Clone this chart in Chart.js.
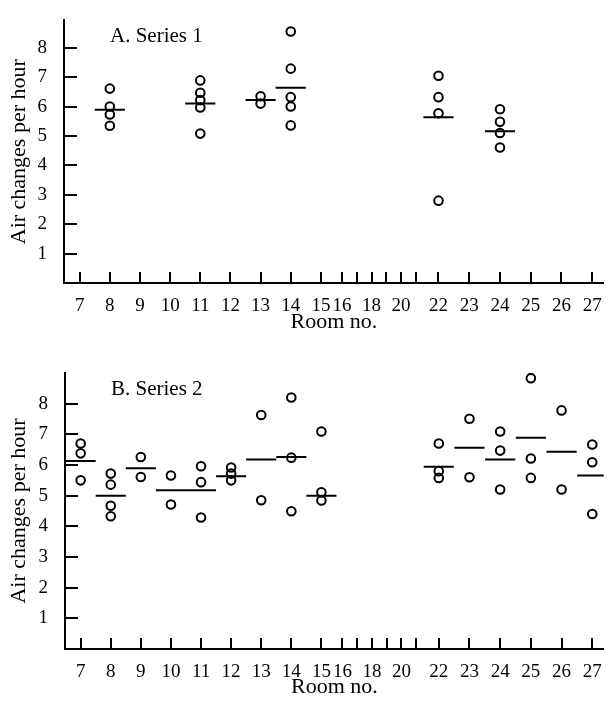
<!DOCTYPE html>
<html><head><meta charset="utf-8">
<script src="https://cdn.jsdelivr.net/npm/chart.js@4.4.1/dist/chart.umd.min.js"></script>
<style>
html,body{margin:0;padding:0;background:#fff;}
#wrap{width:610px;height:701px;position:relative;overflow:hidden;}
.box{position:absolute;left:0;width:610px;}
</style></head><body>
<div id="wrap">
<div class="box" style="top:0;height:340px"><canvas id="cA"></canvas></div>
<div class="box" style="top:340px;height:361px"><canvas id="cB"></canvas></div>
</div>
<script>
// ---- axis definition ----
const roomTicks = [7,8,9,10,11,12,13,14,15,16,17,18,19,20,21,22,23,24,25,26,27];
const roomLabels = [7,8,9,10,11,12,13,14,15,16,18,20,22,23,24,25,26,27];
const yTickValues = [1,2,3,4,5,6,7,8];

// ---- Series 1 (panel A) ----
const s1Rooms = [8, 11, 13, 14, 22, 24];
const s1Values = [
  [6.61, 6.00, 5.73, 5.35],
  [6.89, 6.47, 6.22, 5.97, 5.08],
  [6.35, 6.10],
  [8.55, 7.29, 6.32, 6.00, 5.36],
  [7.05, 6.32, 5.77, 2.80],
  [5.91, 5.48, 5.10, 4.61]
];
const s1Means = [5.89, 6.10, 6.22, 6.64, 5.64, 5.16];

// ---- Series 2 (panel B) ----
const s2Rooms = [7, 8, 9, 10, 11, 12, 13, 14, 15, 22, 23, 24, 25, 26, 27];
const s2Values = [
  [6.70, 6.38, 5.50],
  [5.72, 5.36, 4.67, 4.33],
  [6.26, 5.61],
  [5.66, 4.71],
  [5.96, 5.44, 4.29],
  [5.92, 5.72, 5.50],
  [7.63, 4.85],
  [8.20, 6.24, 4.49],
  [7.09, 5.11, 4.84],
  [6.70, 5.80, 5.58],
  [7.51, 5.60],
  [7.09, 6.47, 5.20],
  [8.83, 6.21, 5.58],
  [7.78, 5.20],
  [6.67, 6.09, 4.40]
];
const s2Means = [6.13, 5.00, 5.89, 5.18, 5.18, 5.63, 6.18, 6.26, 5.00, 5.94, 6.56, 6.18, 6.89, 6.43, 5.66];

// broken (compressed) room axis: rooms 16-21 are squeezed
function roomAxis(r){
  if (r <= 15) return r - 7;
  if (r <= 16) return 8 + 0.7*(r-15);
  if (r <= 21) return 8.7 + 0.49*(r-16);
  if (r <= 22) return 11.15 + 0.75*(r-21);
  return 11.9 + 1.02*(r-22);
}

const FONT = 'Liberation Serif';

const decor = {
  id: 'decor',
  afterDraw(chart, args, opts){
    const {ctx, chartArea, scales:{x, y}} = chart;
    ctx.save();
    ctx.strokeStyle = '#000'; ctx.lineWidth = 2; ctx.lineCap = 'butt';
    ctx.beginPath();
    yTickValues.forEach(v => {
      const py = Math.round(y.getPixelForValue(v));
      ctx.moveTo(chartArea.left, py); ctx.lineTo(chartArea.left + 13, py);
    });
    roomTicks.forEach(r => {
      const px = Math.round(x.getPixelForValue(roomAxis(r)));
      ctx.moveTo(px, chartArea.bottom); ctx.lineTo(px, chartArea.bottom - 11);
    });
    ctx.stroke();
    ctx.fillStyle = '#000';
    ctx.font = '21px "' + FONT + '"';
    ctx.textBaseline = 'middle'; ctx.textAlign = 'left';
    ctx.fillText(opts.text, chartArea.left + opts.dx, chartArea.top + opts.dy);
    ctx.restore();
  }
};

function makeChart(id, rooms, values, means, title, cfg){
  const pts = [];
  rooms.forEach((r, i) => values[i].forEach(v => pts.push({x: roomAxis(r), y: v})));
  const datasets = [{
    type: 'scatter', data: pts,
    pointStyle: 'circle', pointRadius: 4.3, borderWidth: 2,
    borderColor: '#000', backgroundColor: 'rgba(0,0,0,0)'
  }];
  rooms.forEach((r, i) => {
    const p = roomAxis(r);
    datasets.push({
      type: 'line', data: [{x: p - 0.5, y: means[i]}, {x: p + 0.5, y: means[i]}],
      showLine: true, pointRadius: 0, borderWidth: 2, borderColor: '#000', fill: false
    });
  });
  return new Chart(document.getElementById(id), {
    type: 'scatter',
    data: {datasets},
    plugins: [decor],
    options: {
      responsive: true, maintainAspectRatio: false, animation: false, events: [],
      layout: {padding: {top: cfg.top, left: 0, right: 0, bottom: 0}},
      plugins: {legend: {display: false}, tooltip: {enabled: false},
        decor: {text: title, dx: 46, dy: 16}},
      scales: {
        x: {
          type: 'linear', min: -0.52, max: 17.38,
          afterBuildTicks: s => { s.ticks = roomLabels.map(r => ({value: roomAxis(r)})); },
          afterFit: s => { s.height = cfg.xh; },
          ticks: {autoSkip: false, maxRotation: 0, minRotation: 0, color: '#000', padding: 4,
            font: {family: FONT, size: 19}, callback: (v, i) => String(roomLabels[i])},
          grid: {display: false},
          border: {display: true, color: '#000', width: 2},
          title: {display: true, text: 'Room no.', color: '#000', font: {family: FONT, size: 22},
            padding: {top: 0, bottom: cfg.tb}}
        },
        y: {
          type: 'linear', min: 0, max: cfg.ymax,
          afterBuildTicks: s => { s.ticks = yTickValues.map(v => ({value: v})); },
          afterFit: s => { s.width = cfg.yw; },
          ticks: {color: '#000', padding: 9, font: {family: FONT, size: 19}},
          grid: {display: false},
          border: {display: true, color: '#000', width: 2},
          title: {display: true, text: 'Air changes per hour', color: '#000',
            font: {family: FONT, size: 22}, padding: {top: 6, bottom: 0}}
        }
      }
    }
  });
}

makeChart('cA', s1Rooms, s1Values, s1Means, 'A. Series 1', {top: 9, xh: 57, tb: 5, ymax: 8.93, yw: 64});
makeChart('cB', s2Rooms, s2Values, s2Means, 'B. Series 2', {top: 33, xh: 52, tb: 1, ymax: 9.0, yw: 65});
</script>
</body></html>
